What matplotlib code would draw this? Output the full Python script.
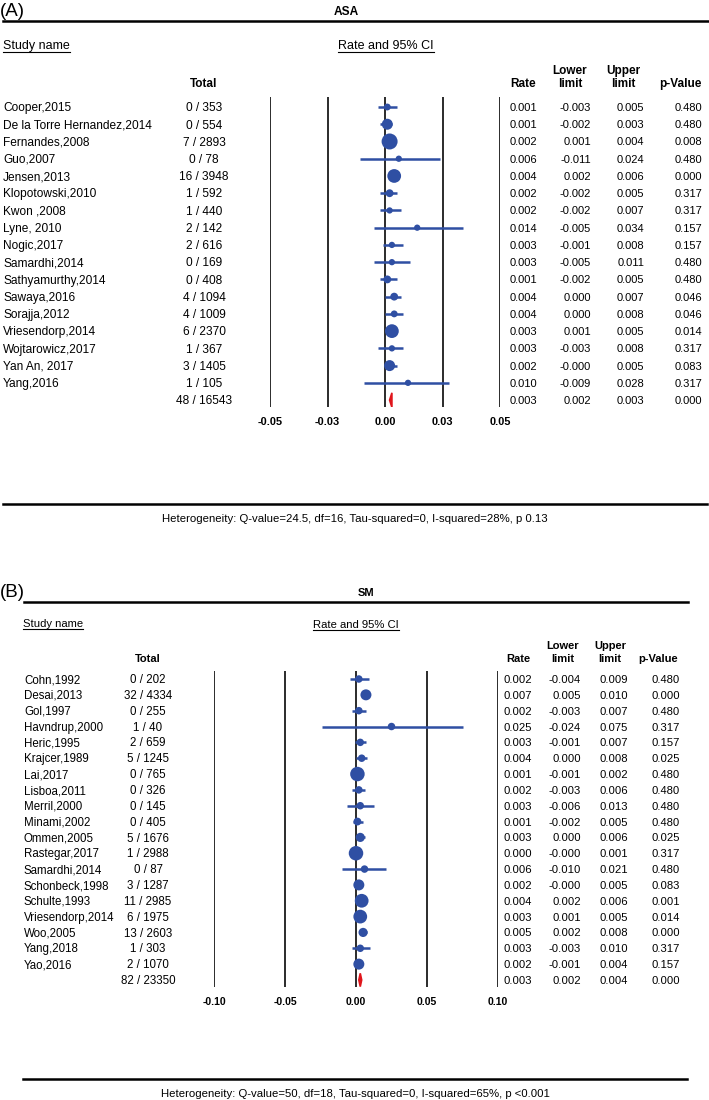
import matplotlib
matplotlib.use("Agg")
import matplotlib.pyplot as plt
import numpy as np
from matplotlib import transforms
from matplotlib.patches import Polygon

# ---------------- DATA ----------------
# Panel A : ASA
names_a = ["Cooper,2015", "De la Torre Hernandez,2014", "Fernandes,2008", "Guo,2007",
           "Jensen,2013", "Klopotowski,2010", "Kwon ,2008", "Lyne, 2010", "Nogic,2017",
           "Samardhi,2014", "Sathyamurthy,2014", "Sawaya,2016", "Sorajja,2012",
           "Vriesendorp,2014", "Wojtarowicz,2017", "Yan An, 2017", "Yang,2016"]
events_a = [0, 0, 7, 0, 16, 1, 1, 2, 2, 0, 0, 4, 4, 6, 1, 3, 1]
totaln_a = [353, 554, 2893, 78, 3948, 592, 440, 142, 616, 169, 408, 1094, 1009, 2370, 367, 1405, 105]
rate_a = [0.001, 0.001, 0.002, 0.006, 0.004, 0.002, 0.002, 0.014, 0.003, 0.003, 0.001,
          0.004, 0.004, 0.003, 0.003, 0.002, 0.010]
lower_a = [-0.003, -0.002, 0.001, -0.011, 0.002, -0.002, -0.002, -0.005, -0.001, -0.005,
           -0.002, 0.000, 0.000, 0.001, -0.003, -0.0, -0.009]
upper_a = [0.005, 0.003, 0.004, 0.024, 0.006, 0.005, 0.007, 0.034, 0.008, 0.011, 0.005,
           0.007, 0.008, 0.005, 0.008, 0.005, 0.028]
pval_a = [0.480, 0.480, 0.008, 0.480, 0.000, 0.317, 0.317, 0.157, 0.157, 0.480, 0.480,
          0.046, 0.046, 0.014, 0.317, 0.083, 0.317]
pooled_events_a, pooled_n_a = 48, 16543
pooled_a = [0.003, 0.002, 0.003, 0.000]   # rate, lower, upper, p
ticks_a = [-0.05, -0.025, 0.0, 0.025, 0.05]
ticklabels_a = ["-0.05", "-0.03", "0.00", "0.03", "0.05"]
title_a = "ASA"
het_a = "Heterogeneity: Q-value=24.5, df=16, Tau-squared=0, I-squared=28%, p 0.13"

# Panel B : SM
names_b = ["Cohn,1992", "Desai,2013", "Gol,1997", "Havndrup,2000", "Heric,1995",
           "Krajcer,1989", "Lai,2017", "Lisboa,2011", "Merril,2000", "Minami,2002",
           "Ommen,2005", "Rastegar,2017", "Samardhi,2014", "Schonbeck,1998",
           "Schulte,1993", "Vriesendorp,2014", "Woo,2005", "Yang,2018", "Yao,2016"]
events_b = [0, 32, 0, 1, 2, 5, 0, 0, 0, 0, 5, 1, 0, 3, 11, 6, 13, 1, 2]
totaln_b = [202, 4334, 255, 40, 659, 1245, 765, 326, 145, 405, 1676, 2988, 87, 1287,
            2985, 1975, 2603, 303, 1070]
rate_b = [0.002, 0.007, 0.002, 0.025, 0.003, 0.004, 0.001, 0.002, 0.003, 0.001, 0.003,
          0.000, 0.006, 0.002, 0.004, 0.003, 0.005, 0.003, 0.002]
lower_b = [-0.004, 0.005, -0.003, -0.024, -0.001, 0.000, -0.001, -0.003, -0.006, -0.002,
           0.000, -0.0, -0.010, -0.0, 0.002, 0.001, 0.002, -0.003, -0.001]
upper_b = [0.009, 0.010, 0.007, 0.075, 0.007, 0.008, 0.002, 0.006, 0.013, 0.005, 0.006,
           0.001, 0.021, 0.005, 0.006, 0.005, 0.008, 0.010, 0.004]
pval_b = [0.480, 0.000, 0.480, 0.317, 0.157, 0.025, 0.480, 0.480, 0.480, 0.480, 0.025,
          0.317, 0.480, 0.083, 0.001, 0.014, 0.000, 0.317, 0.157]
pooled_events_b, pooled_n_b = 82, 23350
pooled_b = [0.003, 0.002, 0.004, 0.000]
ticks_b = [-0.10, -0.05, 0.0, 0.05, 0.10]
ticklabels_b = ["-0.10", "-0.05", "0.00", "0.05", "0.10"]
title_b = "SM"
het_b = "Heterogeneity: Q-value=50, df=18, Tau-squared=0, I-squared=65%, p <0.001"

# ---------------- STYLE / LAYOUT ----------------
plt.rcParams["font.family"] = ["Liberation Sans", "DejaVu Sans"]
W, H = 709, 1100
BLUE = "#2f4fa3"
RED = "#e0151b"
fig = plt.figure(figsize=(W / 100, H / 100), dpi=100)
ov = fig.add_axes([0, 0, 1, 1])
ov.set_xlim(0, W)
ov.set_ylim(H, 0)
ov.axis("off")


def ctext(x, y, s, transform, fs, **kw):
    """Text whose capital letters are vertically centred on y."""
    tr = transforms.offset_copy(transform, fig=fig, x=0, y=-0.716 * fs / 2, units="points")
    return ov.text(x, y, s, transform=tr, fontsize=fs, va="baseline", clip_on=False, **kw)


layouts = [
    dict(label="(A)", label_xy=(0, 9), title_x=346, title_y=11, rule_y=21, rule_x=(3, 708),
         sn_xy=(3, 45), rc_xy=(338, 45), hdr_y1=70, hdr_y2=83,
         ax_px=(270, 500, 97, 407), row0=107, step=17.24,
         name_x=3, total_x=204, cols_r=(537, 591, 644, 702), cols_c=(523, 570, 623, 680),
         bot_y=504, bot_x=(3, 707), het_xy=(355, 518),
         fs_name=8.6, fs_val=8.0, fs_hdr=8.5, fs_und=9.0, fs_tick=7.9, fs_het=8.2, fs_title=8.6,
         k=0.055, dmin=6.3, dmax=16.0, pad=7.0),
    dict(label="(B)", label_xy=(0, 590), title_x=366, title_y=592, rule_y=602, rule_x=(24, 688),
         sn_xy=(23, 623), rc_xy=(313, 624), hdr_y1=645, hdr_y2=658,
         ax_px=(214, 498, 671, 987), row0=679, step=15.84,
         name_x=24, total_x=148, cols_r=(532, 581, 628, 680), cols_c=(518, 563, 610, 658),
         bot_y=1079, bot_x=(23, 687), het_xy=(355, 1093),
         fs_name=8.3, fs_val=8.1, fs_hdr=8.0, fs_und=8.1, fs_tick=7.5, fs_het=8.2, fs_title=8.0,
         k=0.055, dmin=7.5, dmax=14.5, pad=7.0),
]

panels = [
    (names_a, events_a, totaln_a, rate_a, lower_a, upper_a, pval_a,
     pooled_events_a, pooled_n_a, pooled_a, ticks_a, ticklabels_a, title_a, het_a),
    (names_b, events_b, totaln_b, rate_b, lower_b, upper_b, pval_b,
     pooled_events_b, pooled_n_b, pooled_b, ticks_b, ticklabels_b, title_b, het_b),
]

underlined = []

for L, P in zip(layouts, panels):
    (names, ev, tn, rate, lo, hi, pv, pev, pn, pooled, ticks, tlabels, title, het) = P
    n = len(names)
    rate = np.array(rate); lo = np.array(lo); hi = np.array(hi)

    x0, x1, y0, y1 = L["ax_px"]
    ax = fig.add_axes([x0 / W, 1 - y1 / H, (x1 - x0) / W, (y1 - y0) / H])
    ax.set_xlim(ticks[0], ticks[-1])
    ax.set_ylim((y1 - L["row0"]) / L["step"], (y0 - L["row0"]) / L["step"])
    for s in ax.spines.values():
        s.set_visible(False)
    ax.set_yticks([])
    ax.set_xticks(ticks)
    ax.set_xticklabels(tlabels, fontsize=L["fs_tick"], fontweight="bold")
    ax.tick_params(axis="x", length=0, pad=L["pad"])
    ax.patch.set_alpha(0)
    for t in ticks:
        ax.axvline(t, color="#1a1a1a", lw=1.3, zorder=1)

    rows = np.arange(n)
    ax.hlines(rows, lo, hi, color=BLUE, lw=1.8, zorder=2)
    d = np.clip(L["k"] / (hi - lo), L["dmin"], L["dmax"])
    ax.scatter(rate, rows, s=(d * 0.72) ** 2, color=BLUE, zorder=3, linewidths=0)
    pr, plo, phi, _ = pooled
    hh = 0.42
    ax.add_patch(Polygon([[plo, n], [pr, n - hh], [phi, n], [pr, n + hh]],
                         closed=True, facecolor=RED, edgecolor=RED, zorder=3, lw=1.2))

    tr = transforms.blended_transform_factory(ov.transData, ax.transData)
    for i in range(n):
        ctext(L["name_x"], i, names[i], tr, L["fs_name"], ha="left")
        ctext(L["total_x"], i, f"{ev[i]} / {tn[i]}", tr, L["fs_name"], ha="center")
        for xr, v in zip(L["cols_r"], (rate[i], lo[i], hi[i], pv[i])):
            ctext(xr, i, f"{v:.3f}", tr, L["fs_val"], ha="right")
    ctext(L["total_x"], n, f"{pev} / {pn}", tr, L["fs_name"], ha="center")
    for xr, v in zip(L["cols_r"], pooled):
        ctext(xr, n, f"{v:.3f}", tr, L["fs_val"], ha="right")

    # headers
    fh = L["fs_hdr"]
    cc = L["cols_c"]
    pt = ov.transData
    ctext(L["total_x"], L["hdr_y2"], "Total", pt, fh, fontweight="bold", ha="center")
    ctext(cc[0], L["hdr_y2"], "Rate", pt, fh, fontweight="bold", ha="center")
    ctext(cc[1], L["hdr_y1"], "Lower", pt, fh, fontweight="bold", ha="center")
    ctext(cc[1], L["hdr_y2"], "limit", pt, fh, fontweight="bold", ha="center")
    ctext(cc[2], L["hdr_y1"], "Upper", pt, fh, fontweight="bold", ha="center")
    ctext(cc[2], L["hdr_y2"], "limit", pt, fh, fontweight="bold", ha="center")
    ctext(cc[3], L["hdr_y2"], "p-Value", pt, fh, fontweight="bold", ha="center")

    t1 = ctext(*L["sn_xy"], "Study name", pt, L["fs_und"], ha="left")
    t2 = ctext(*L["rc_xy"], "Rate and 95% CI", pt, L["fs_und"], ha="left")
    underlined += [t1, t2]

    # titles and rules
    ctext(*L["label_xy"], L["label"], pt, 13.5, ha="left")
    ctext(L["title_x"], L["title_y"], title, pt, L["fs_title"], fontweight="bold", ha="center")
    ov.plot(L["rule_x"], [L["rule_y"]] * 2, color="black", lw=1.8)
    ov.plot(L["bot_x"], [L["bot_y"]] * 2, color="black", lw=1.8)
    ctext(*L["het_xy"], het, pt, L["fs_het"], ha="center")

# underline the column group headings
fig.canvas.draw()
inv = ov.transData.inverted()
r = fig.canvas.get_renderer()
for t in underlined:
    bb = t.get_window_extent(r)
    (xa, ya), (xb, yb) = inv.transform([[bb.x0, bb.y0], [bb.x1, bb.y1]])
    ov.plot([xa, xb], [ya - 0.5, ya - 0.5], color="black", lw=0.8)

fig.savefig("out.png", dpi=100)
